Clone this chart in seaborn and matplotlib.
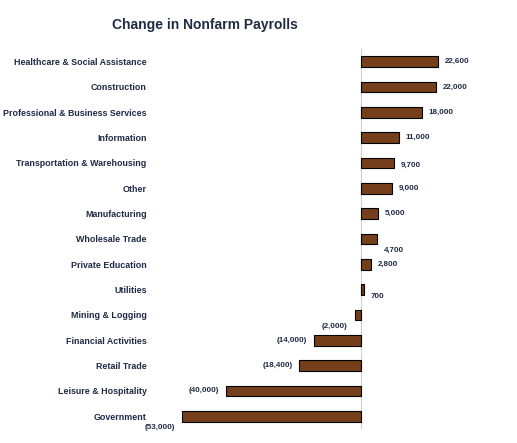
import matplotlib
matplotlib.use("Agg")
import matplotlib.pyplot as plt
import seaborn as sns
import pandas as pd

categories = ["Healthcare & Social Assistance", "Construction", "Professional & Business Services",
              "Information", "Transportation & Warehousing", "Other", "Manufacturing",
              "Wholesale Trade", "Private Education", "Utilities", "Mining & Logging",
              "Financial Activities", "Retail Trade", "Leisure & Hospitality", "Government"]
values = [22600, 22000, 18000, 11000, 9700, 9000, 5000, 4700, 2800, 700, -2000, -14000, -18400, -40000, -53000]
labels = ["22,600", "22,000", "18,000", "11,000", "9,700", "9,000", "5,000", "4,700", "2,800", "700",
          "(2,000)", "(14,000)", "(18,400)", "(40,000)", "(53,000)"]
# label vertical offsets (rows) as shown in the chart
label_dy = [0, 0, 0, 0, 0.1, 0, 0, 0.45, 0, 0.25, 0.45, 0, 0, 0, 0.45]

df = pd.DataFrame({"cat": categories, "val": values})

sns.set_theme(style="white")
plt.rcParams['font.family'] = ['Liberation Sans', 'DejaVu Sans']
fig = plt.figure(figsize=(5.17, 4.43), dpi=100)
ax = fig.add_axes([155/517, 1-429/443, 345/517, 380/443])
sns.barplot(data=df, x="val", y="cat", color="#843C0C", edgecolor="black", linewidth=0.8,
            width=0.42, ax=ax, orient="h")
ax.set_xlim(-61000, 41000)
ax.set_ylim(14.5, -0.5)
ax.axvline(0, color="#d0d0d0", lw=0.8, zorder=0)
ax.set_xticks([])
ax.set_xlabel("")
ax.set_ylabel("")
ax.tick_params(axis="y", length=0, pad=6)
for t in ax.get_yticklabels():
    t.set_fontsize(6.4)
    t.set_fontweight("bold")
    t.set_color("#1F2A44")
for s in ax.spines.values():
    s.set_visible(False)
for i, (v, lab) in enumerate(zip(values, labels)):
    if v >= 0:
        ax.text(v + 2000, i + label_dy[i], lab, ha="left", va="center", fontsize=5.8, fontweight="bold", color="#1F2A44")
    else:
        ax.text(v - 2000, i + label_dy[i], lab, ha="right", va="center", fontsize=5.8, fontweight="bold", color="#1F2A44")
fig.text(205/517, 1-25/443, "Change in Nonfarm Payrolls", ha="center", va="center",
         fontsize=10, fontweight="bold", color="#1F2A44")
fig.savefig("out.png", dpi=100)
